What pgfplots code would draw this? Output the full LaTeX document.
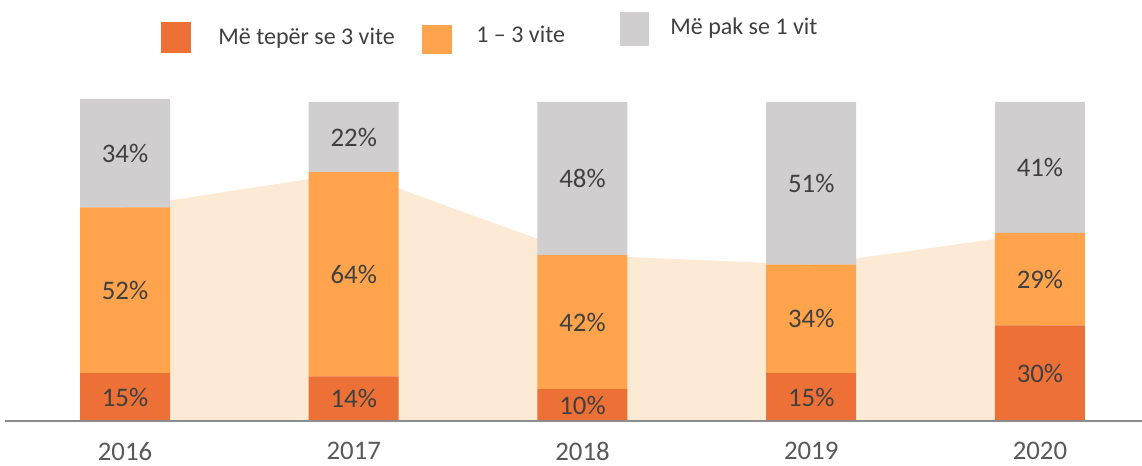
\documentclass[border=0pt]{standalone}
\usepackage{pgfplots}
\pgfplotsset{compat=1.18}
\usepackage{pgfplotstable}
\usepackage{fontspec}
\setmainfont{Carlito}

\definecolor{cdark}{HTML}{ED7037}
\definecolor{corange}{HTML}{FFA34D}
\definecolor{cgray}{HTML}{D0CECE}
\definecolor{cpeach}{HTML}{FDEAD5}
\definecolor{ctext}{HTML}{404040}
\definecolor{ctick}{HTML}{595959}
\definecolor{caxis}{HTML}{8C8C8C}

\pgfplotstableread{
x over one less
0 15 52 34
1 14 64 22
2 10 42 48
3 15 34 51
4 30 29 41
}\bars

\pgfplotstableread{
x top
0 67
1 78
2 52
3 49
4 59
}\area

\pgfplotstableread{
x y lab
0 7.5 15
0 41 52
0 84 34
1 7 14
1 46 64
1 89 22
2 5 10
2 31 42
2 76 48
3 7.5 15
3 32 34
3 74.5 51
4 15 30
4 44.5 29
4 79.5 41
}\labels

\pgfplotsset{base/.style={
  at={(2.5pt,22.5pt)}, anchor=south west,
  scale only axis, width=568.5pt, height=175.45pt,
  xmin=-0.5246, xmax=4.446, ymin=0, ymax=110,
  enlargelimits=false, clip=false}}

\begin{document}
\begin{tikzpicture}
\useasboundingbox (0,0) rectangle (571pt,233pt);

% peach area
\begin{axis}[base, hide axis]
\addplot[fill=cpeach, draw=none] table[x=x, y=top] {\area} \closedcycle;
\end{axis}

% stacked bars
\begin{axis}[base, ybar stacked, bar width=45pt,
  axis x line=bottom, axis y line=none, axis on top,
  x axis line style={-, color=caxis, line width=1.2pt},
  ytick=\empty, xtick={0,1,2,3,4},
  xticklabels={2016,2017,2018,2019,2020},
  major tick length=0pt,
  xticklabel style={font=\fontsize{13.4}{16}\selectfont, color=ctick,
    inner sep=0pt, anchor=north, yshift=-10.5pt}]
\addplot[fill=cdark, draw=none] table[x=x, y=over] {\bars};
\addplot[fill=corange, draw=none] table[x=x, y=one] {\bars};
\addplot[fill=cgray, draw=none] table[x=x, y=less] {\bars};
\end{axis}

% labels
\begin{axis}[base, hide axis]
\addplot[draw=none, mark=none, point meta=explicit,
  nodes near coords={\pgfmathprintnumber[assume math mode=true]{\pgfplotspointmeta}\%},
  nodes near coords style={anchor=center, inner sep=0pt, color=ctext,
    font=\fontsize{13.4}{16}\selectfont}]
  table[x=x, y=y, meta=lab] {\labels};
\end{axis}

% legend
\fill[cdark] (80.5pt,206.5pt) rectangle (95.5pt,222pt);
\node[anchor=base west, inner sep=0pt, color=ctext, font=\fontsize{12}{15}\selectfont] at (109pt,210.5pt) {Më tepër se 3 vite};
\fill[corange] (211pt,206pt) rectangle (226pt,220.5pt);
\node[anchor=base west, inner sep=0pt, color=ctext, font=\fontsize{12}{15}\selectfont] at (238pt,211.5pt) {1 – 3 vite};
\fill[cgray] (310pt,210pt) rectangle (324.5pt,227pt);
\node[anchor=base west, inner sep=0pt, color=ctext, font=\fontsize{12}{15}\selectfont] at (335pt,215.5pt) {Më pak se 1 vit};
\end{tikzpicture}
\end{document}
